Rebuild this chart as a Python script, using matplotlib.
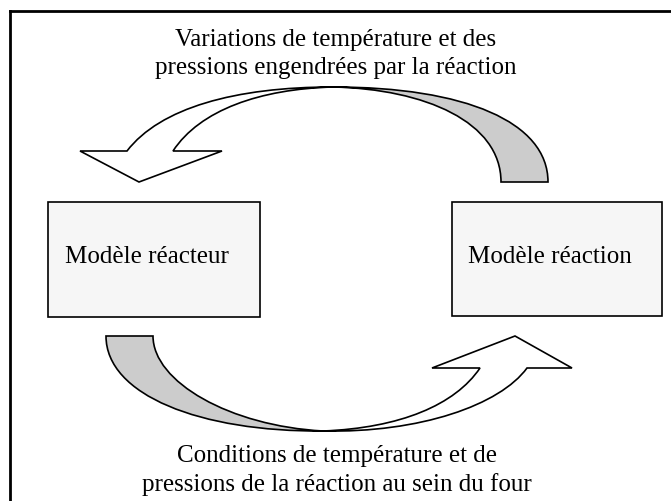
import matplotlib
matplotlib.use("Agg")
import matplotlib.pyplot as plt
from matplotlib.path import Path
from matplotlib.patches import PathPatch, Rectangle

plt.rcParams['font.family'] = ['Liberation Serif', 'DejaVu Serif']

# texts of the diagram
top_lines = ["Variations de température et des",
             "pressions engendrées par la réaction"]
bottom_lines = ["Conditions de température et de",
                "pressions de la réaction au sein du four"]
box_labels = ["Modèle réacteur", "Modèle réaction"]

# boxes: (x0, y0, x1, y1) in pixel coords, y down
boxes = [(48, 202, 260, 317), (452, 202, 662, 316)]
label_x = [65, 468]

W, H = 671, 501
fig = plt.figure(figsize=(W / 100, H / 100), dpi=100)
ax = fig.add_axes([0, 0, 1, 1])
ax.set_xlim(0, W)
ax.set_ylim(H, 0)
ax.axis('off')

C4 = Path.CURVE4
L = Path.LINETO
M = Path.MOVETO
CL = Path.CLOSEPOLY


def shape(verts, codes, fc):
    p = PathPatch(Path(verts, codes), facecolor=fc, edgecolor='black',
                  lw=1.2, joinstyle='miter')
    ax.add_patch(p)


# outer frame (only left and top visible)
ax.plot([10, 10], [H + 5, 11], color='black', lw=2, solid_capstyle='projecting')
ax.plot([10, W + 5], [11, 11], color='black', lw=2, solid_capstyle='projecting')

# top arrow - gray back part
shape([(501, 182), (548, 182),
       (548, 122), (465, 87), (333, 87),
       (425, 89), (501, 122), (501, 182),
       (501, 182)],
      [M, L, C4, C4, C4, C4, C4, C4, CL], '#cccccc')

# top arrow - white front part with head
shape([(333, 87),
       (235, 87), (160, 108), (127, 151),
       (80, 151), (139, 182), (222, 151), (173, 151),
       (200, 110), (260, 89), (333, 87),
       (333, 87)],
      [M, C4, C4, C4, L, L, L, L, C4, C4, C4, CL], 'white')

# bottom arrow - gray back part
shape([(106, 336), (153, 336),
       (153, 382), (230, 426), (323, 431),
       (200, 432), (106, 395), (106, 336),
       (106, 336)],
      [M, L, C4, C4, C4, C4, C4, C4, CL], '#cccccc')

# bottom arrow - white front part with head
shape([(323, 431),
       (420, 433), (500, 405), (527, 368),
       (572, 368), (515, 336), (432, 368), (480, 368),
       (455, 405), (400, 428), (323, 431),
       (323, 431)],
      [M, C4, C4, C4, L, L, L, L, C4, C4, C4, CL], 'white')

# model boxes
for (x0, y0, x1, y1), lab, lx in zip(boxes, box_labels, label_x):
    ax.add_patch(Rectangle((x0, y0), x1 - x0, y1 - y0, facecolor='#f6f6f6',
                           edgecolor='black', lw=1.2))
    ax.text(lx, 263, lab, fontsize=18, ha='left', va='baseline')

# captions
for i, t in enumerate(top_lines):
    ax.text(336, 46 + i * 28, t, fontsize=18, ha='center', va='baseline')
for i, t in enumerate(bottom_lines):
    ax.text(337, 462 + i * 29, t, fontsize=18, ha='center', va='baseline')

fig.savefig("out.png", dpi=100)
